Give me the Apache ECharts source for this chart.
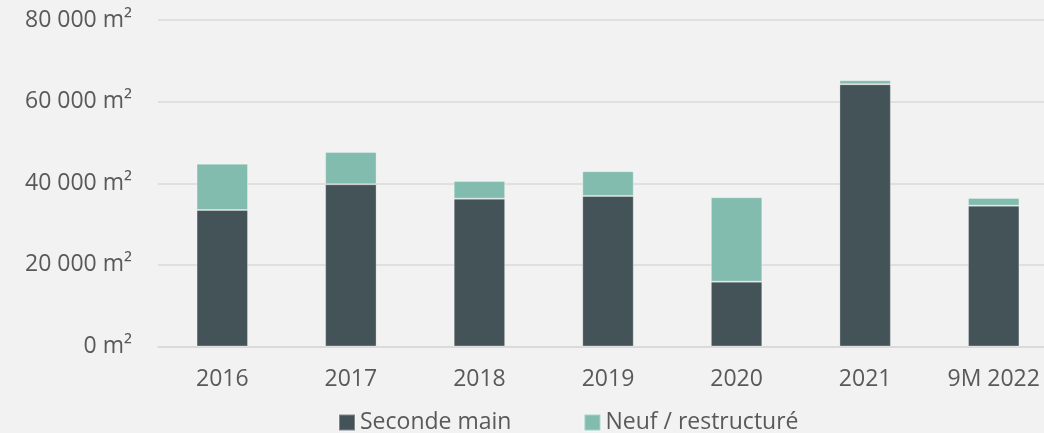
<!DOCTYPE html>
<html><head><meta charset="utf-8">
<script src="https://cdn.jsdelivr.net/npm/echarts@6/dist/echarts.min.js"></script>
<style>html,body{margin:0;padding:0;background:#F2F2F2}#c{width:1044px;height:433px}</style>
</head><body><div id="c"></div>
<script>
const categories = ['2016','2017','2018','2019','2020','2021','9M 2022'];
const secondeMain = [33450, 39750, 36230, 36890, 15890, 64260, 34510];
const neuf = [11350, 7920, 4330, 6050, 20680, 980, 1890];
const seriesNames = ['Seconde main', 'Neuf / restructuré'];
const yTicks = [0, 20000, 40000, 60000, 80000];

const fmt = v => String(v).replace(/\B(?=(\d{3})+(?!\d))/g, ' ') + ' m²';
const font = '"Open Sans", sans-serif';
const chart = echarts.init(document.getElementById('c'));
chart.setOption({
  backgroundColor: '#F2F2F2',
  animation: false,
  textStyle: { fontFamily: font },
  grid: { left: 158, top: 20, right: -14, bottom: 86.5, outerBoundsMode: 'none', containLabel: false },
  legend: {
    left: 333, top: 406, itemWidth: 16, itemHeight: 16, itemGap: 72,
    icon: 'rect',
    textStyle: { fontSize: 23, color: '#595959', fontFamily: font },
    data: seriesNames
  },
  xAxis: {
    type: 'category', data: categories,
    axisTick: { show: false },
    axisLine: { lineStyle: { color: '#D9D9D9', width: 1.5 } },
    axisLabel: { fontSize: 23, color: '#595959', margin: 21, fontFamily: font }
  },
  yAxis: {
    type: 'value', min: yTicks[0], max: yTicks[yTicks.length - 1], interval: 20000,
    axisLine: { show: false }, axisTick: { show: false },
    splitLine: { lineStyle: { color: '#D9D9D9', width: 1.5 } },
    axisLabel: { fontSize: 23, color: '#595959', margin: 26, formatter: fmt, fontFamily: font }
  },
  series: [
    { name: seriesNames[0], type: 'bar', stack: 's', data: secondeMain, barWidth: '40%',
      itemStyle: { color: '#435357', borderColor: 'rgba(255,255,255,0.3)', borderWidth: 1 } },
    { name: seriesNames[1], type: 'bar', stack: 's', data: neuf, barWidth: '40%',
      itemStyle: { color: '#82BCAE', borderColor: 'rgba(255,255,255,0.3)', borderWidth: 1 } }
  ]
});
</script></body></html>
